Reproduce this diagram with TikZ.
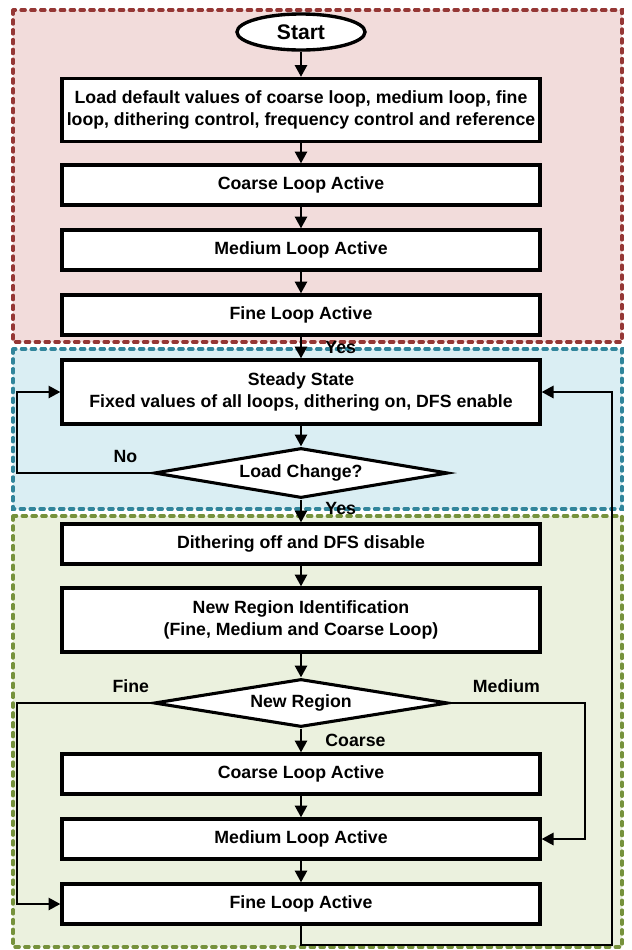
\documentclass[tikz,border=0pt]{standalone}
\usepackage{fontspec}
\setmainfont{Liberation Sans}
\usepackage{tikz}
\usetikzlibrary{shapes.geometric, arrows.meta, positioning, calc}
\definecolor{regred}{RGB}{149,55,53}
\definecolor{regblue}{RGB}{49,133,155}
\definecolor{reggreen}{RGB}{118,146,60}
\definecolor{fillred}{RGB}{242,220,219}
\definecolor{fillblue}{RGB}{218,238,243}
\definecolor{fillgreen}{RGB}{235,241,222}
\tikzset{
  region/.style={dash pattern=on 3pt off 4pt, line cap=round, line width=2.4pt},
  block/.style={rectangle, draw=black, fill=white, line width=2.2pt, minimum width=11.95cm, minimum height=1.0cm, align=center, font=\fontsize{12.6}{15.2}\selectfont\bfseries},
  decision/.style={diamond, draw=black, fill=white, line width=2.2pt, aspect=6, inner sep=0pt, minimum width=7.35cm, minimum height=1.25cm, font=\fontsize{12.6}{15.2}\selectfont\bfseries},
  startnode/.style={ellipse, draw=black, fill=white, line width=2.4pt, minimum width=3.2cm, minimum height=0.9cm, inner sep=0pt, font=\fontsize{15}{18}\selectfont\bfseries},
  arrow/.style={-{Triangle[length=8.5pt,width=8.5pt]}, line width=2.1pt, color=black},
  lbl/.style={font=\fontsize{12.6}{15.2}\selectfont\bfseries}
}
\begin{document}
\begin{tikzpicture}
  \useasboundingbox (0,0) rectangle (15.8,-23.75);
  % Regions (background)
  \draw[region, draw=regred, fill=fillred] (0.325,-0.25) rectangle (15.55,-8.55);
  \draw[region, draw=regblue, fill=fillblue] (0.325,-8.725) rectangle (15.55,-12.725);
  \draw[region, draw=reggreen, fill=fillgreen] (0.325,-12.9) rectangle (15.55,-23.675);

  % Initialisation
  \node[startnode] (start) at (7.525,-0.8) {Start};
  \node[block, minimum height=1.575cm] (load) at (7.525,-2.75) {Load default values of coarse loop, medium loop, fine\\loop, dithering control, frequency control and reference};
  \node[block] (coarse1) at (7.525,-4.625) {Coarse Loop Active};
  \node[block] (medium1) at (7.525,-6.25) {Medium Loop Active};
  \node[block] (fine1) at (7.525,-7.875) {Fine Loop Active};

  % Steady state
  \node[block, minimum height=1.6cm] (steady) at (7.525,-9.8) {Steady State\\Fixed values of all loops, dithering on, DFS enable};
  \node[decision] (change) at (7.525,-11.825) {Load Change?};

  % Region change
  \node[block] (dither) at (7.525,-13.6) {Dithering off and DFS disable};
  \node[block, minimum height=1.6cm] (ident) at (7.525,-15.5) {New Region Identification\\(Fine, Medium and Coarse Loop)};
  \node[decision, minimum height=1.2cm] (region) at (7.525,-17.575) {New Region};
  \node[block] (coarse2) at (7.525,-19.35) {Coarse Loop Active};
  \node[block] (medium2) at (7.525,-20.975) {Medium Loop Active};
  \node[block] (fine2) at (7.525,-22.6) {Fine Loop Active};

  \coordinate (leftbus) at (0.425,0);
  \coordinate (medbus) at (14.625,0);
  \coordinate (botright) at (15.3,-23.625);

  % Connectors
  \draw[arrow] (start) -- (load);
  \draw[arrow] (load) -- (coarse1);
  \draw[arrow] (coarse1) -- (medium1);
  \draw[arrow] (medium1) -- (fine1);
  \draw[arrow] (fine1) -- node[lbl, midway, right=13pt] {Yes} (steady);
  \draw[arrow] (steady) -- (change);
  \draw[arrow] (change.west) -- node[lbl, pos=0.2, above=3pt] {No} (change.west -| leftbus) |- (steady.west);
  \draw[arrow] (change) -- node[lbl, pos=0.4, right=13pt] {Yes} (dither);
  \draw[arrow] (dither) -- (ident);
  \draw[arrow] (ident) -- (region);
  \draw[arrow] (region) -- node[lbl, midway, right=13pt] {Coarse} (coarse2);
  \draw[arrow] (region.west) -- node[lbl, pos=0.16, above=3pt] {Fine} (region.west -| leftbus) |- (fine2.west);
  \draw[arrow] (region.east) -- node[lbl, pos=0.42, above=3pt] {Medium} (region.east -| medbus) |- (medium2.east);
  \draw[arrow] (coarse2) -- (medium2);
  \draw[arrow] (medium2) -- (fine2);
  \draw[arrow] (fine2.south) |- (botright) |- (steady.east);
\end{tikzpicture}
\end{document}
